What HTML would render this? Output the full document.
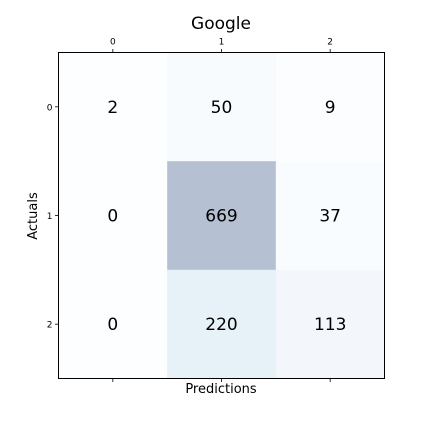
<!DOCTYPE html>
<html><head><meta charset="utf-8"><style>
html,body{margin:0;padding:0;background:#fff;}
svg{display:block;font-family:"DejaVu Sans","Liberation Sans",sans-serif;}
</style></head><body>
<svg id="chart" width="432" height="432" viewBox="0 0 432 432">
<text x="221" y="29" text-anchor="middle" font-size="17" fill="#000">Google</text>
<g id="cells"></g>
<g id="labels"></g>
<g id="ticks"></g>
<rect x="58.5" y="52.5" width="326" height="326" fill="none" stroke="#000" stroke-width="1"/>
<text x="221" y="393" text-anchor="middle" font-size="13" fill="#000">Predictions</text>
<text transform="translate(37,216) rotate(-90)" text-anchor="middle" font-size="13" fill="#000">Actuals</text>
</svg>
<script>
const categories = ["0","1","2"];
const row0 = [2, 50, 9];
const row1 = [0, 669, 37];
const row2 = [0, 220, 113];
const matrix = [row0, row1, row2];

const NS = "http://www.w3.org/2000/svg";
const X0 = 58.5, Y0 = 52.5, W = 326, H = 326;
const n = categories.length;
const cw = W / n, ch = H / n;
function xPos(i){ return X0 + i * cw; }
function yPos(i){ return Y0 + i * ch; }
const stops = ["#f7fbff","#deebf7","#c6dbef","#9ecae1","#6baed6","#4292c6","#2171b5","#08519c","#08306b"];
function hex(h){ return [1,3,5].map(k=>parseInt(h.substr(k,2),16)); }
function color(v, mn, mx){
  let t = mx>mn ? (v-mn)/(mx-mn) : 0;
  const p = t*(stops.length-1), i = Math.min(Math.floor(p), stops.length-2), f = p-i;
  const a = hex(stops[i]), b = hex(stops[i+1]);
  const c = a.map((x,k)=>x+(b[k]-x)*f).map(x=>Math.round(255-0.3*(255-x)));
  return "rgb("+c.join(",")+")";
}
const flat = matrix.flat();
const mn = Math.min(...flat), mx = Math.max(...flat);
const cells = document.getElementById("cells"), labels = document.getElementById("labels"), ticks = document.getElementById("ticks");
matrix.forEach((row, r) => row.forEach((v, c) => {
  const rect = document.createElementNS(NS, "rect");
  rect.setAttribute("x", xPos(c)); rect.setAttribute("y", yPos(r));
  rect.setAttribute("width", cw+0.5); rect.setAttribute("height", ch+0.5);
  rect.setAttribute("fill", color(v, mn, mx));
  
  
  cells.appendChild(rect);
  const t = document.createElementNS(NS, "text");
  t.setAttribute("x", xPos(c)+cw/2); t.setAttribute("y", yPos(r)+ch/2+6);
  t.setAttribute("text-anchor", "middle"); t.setAttribute("font-size", "17");
  t.textContent = v;
  
  
  labels.appendChild(t);
}));
function line(x1,y1,x2,y2){
  const l = document.createElementNS(NS,"line");
  l.setAttribute("x1",x1);l.setAttribute("y1",y1);l.setAttribute("x2",x2);l.setAttribute("y2",y2);
  l.setAttribute("stroke","#000");l.setAttribute("stroke-width","0.8");
  
  
  ticks.appendChild(l);
}
categories.forEach((c, i) => {
  const xc = xPos(i)+cw/2, yc = yPos(i)+ch/2;
  line(xc, Y0, xc, Y0-3.5);
  line(xc, Y0+H, xc, Y0+H+3.5);
  line(X0, yc, X0-3.5, yc);
  const tx = document.createElementNS(NS,"text");
  tx.setAttribute("x", xc); tx.setAttribute("y", Y0-8);
  tx.setAttribute("text-anchor","middle"); tx.setAttribute("font-size","9");
  tx.textContent = c;
  
  
  ticks.appendChild(tx);
  const ty = document.createElementNS(NS,"text");
  ty.setAttribute("x", X0-6); ty.setAttribute("y", yc+3.5);
  ty.setAttribute("text-anchor","end"); ty.setAttribute("font-size","9");
  ty.textContent = c;
  
  
  ticks.appendChild(ty);
});
</script>
</body></html>
